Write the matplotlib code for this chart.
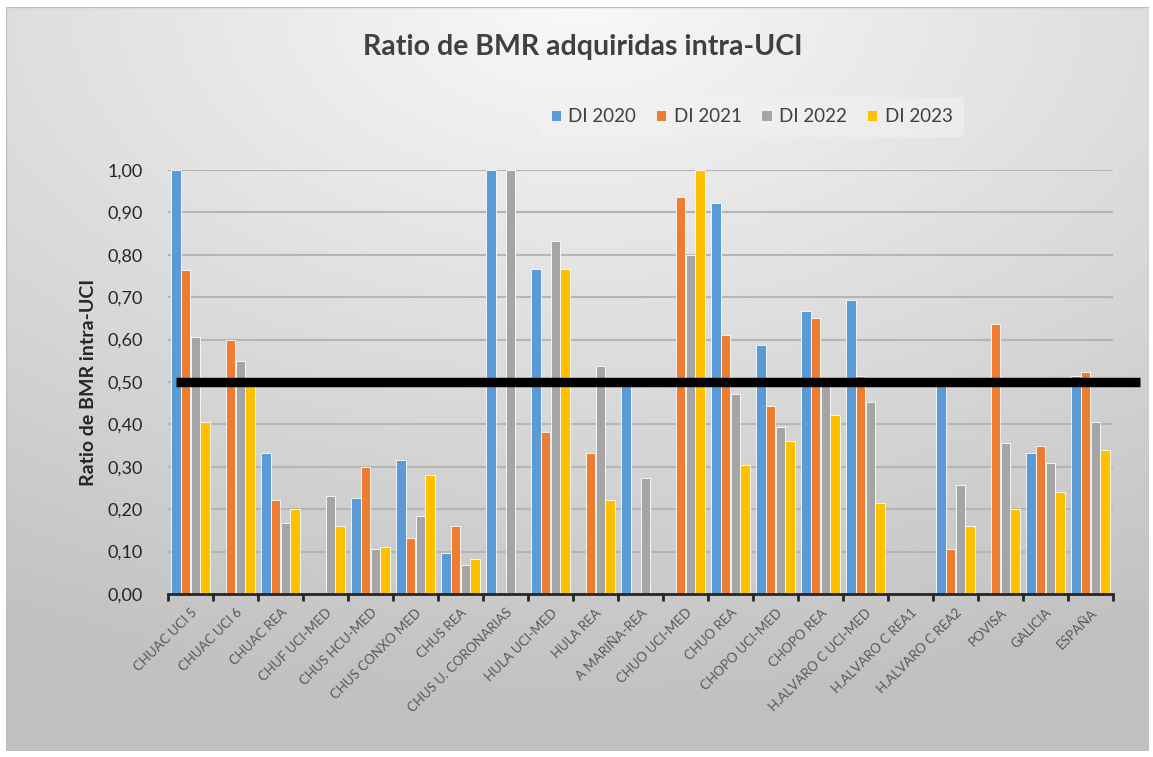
import numpy as np
import matplotlib
matplotlib.use("Agg")
import matplotlib.pyplot as plt
from matplotlib.patches import Patch, Rectangle
from matplotlib.ticker import FuncFormatter, FixedLocator

plt.rcParams['font.family'] = ['Lato', 'DejaVu Sans']

categories = ["CHUAC UCI 5", "CHUAC UCI 6", "CHUAC REA", "CHUF UCI-MED", "CHUS HCU-MED",
              "CHUS CONXO MED", "CHUS REA", "CHUS U. CORONARIAS", "HULA UCI-MED", "HULA REA",
              "A MARIÑA-REA", "CHUO UCI-MED", "CHUO REA", "CHOPO UCI-MED", "CHOPO REA",
              "H.ALVARO C UCI-MED", "H.ALVARO C REA1", "H.ALVARO C REA2", "POVISA", "GALICIA",
              "ESPAÑA"]
di2020 = [1.00, 0.00, 0.333, 0.00, 0.227, 0.316, 0.097, 1.00, 0.767, 0.00, 0.50, 0.00,
          0.923, 0.588, 0.667, 0.694, 0.00, 0.50, 0.00, 0.333, 0.515]
di2021 = [0.765, 0.60, 0.222, 0.00, 0.30, 0.133, 0.161, 0.00, 0.383, 0.333, 0.00, 0.937,
          0.611, 0.444, 0.652, 0.513, 0.00, 0.107, 0.636, 0.348, 0.523]
di2022 = [0.605, 0.55, 0.167, 0.23, 0.105, 0.185, 0.068, 1.00, 0.833, 0.538, 0.273, 0.80,
          0.471, 0.394, 0.50, 0.452, 0.00, 0.258, 0.357, 0.308, 0.406]
di2023 = [0.405, 0.49, 0.20, 0.16, 0.11, 0.28, 0.082, 0.00, 0.767, 0.222, 0.00, 1.00,
          0.305, 0.36, 0.423, 0.214, 0.00, 0.16, 0.20, 0.241, 0.34]
series_names = ["DI 2020", "DI 2021", "DI 2022", "DI 2023"]
series_values = [di2020, di2021, di2022, di2023]
colors = ["#5B9BD5", "#ED7D31", "#A5A5A5", "#FFC000"]
threshold = 0.50

W, H = 1153, 757
fig = plt.figure(figsize=(W / 100, H / 100), dpi=100)
fig.patch.set_facecolor("white")

# background gradient panel
bg = fig.add_axes([6 / W, 6 / H, (1149 - 6) / W, (750 - 6) / H])
bg.set_axis_off()
yy, xx = np.mgrid[0:1:300j, 0:1:400j]
d = np.sqrt(((xx - 0.5) * 1.0) ** 2 + ((yy - 0.0) * 1.1) ** 2)
g = np.clip(0.975 - 0.21 * d, 0.76, 0.975)
bg.imshow(np.dstack([g, g, g]), extent=[0, 1, 0, 1], aspect='auto', origin='upper')
bg.add_patch(Rectangle((0, 0), 1, 1, transform=bg.transAxes, fill=False,
                       edgecolor="#bfbfbf", lw=1.0))
bg.set_xlim(0, 1)
bg.set_ylim(0, 1)

left, right = 168 / W, 1113 / W
bottom, top = 1 - 594 / H, 1 - 170 / H
ax = fig.add_axes([left, bottom, right - left, top - bottom])
ax.patch.set_alpha(0)

n = len(categories)
x = np.arange(n)
bw = 0.215
for i, (name, vals, c) in enumerate(zip(series_names, series_values, colors)):
    ax.bar(x + (i - 1.5) * bw, vals, width=bw * 0.95, color=c, edgecolor="white",
           linewidth=0.6, label=name, zorder=3, clip_on=False)

ax.set_xlim(-0.5, n - 0.5)
ax.set_ylim(0, 1.0)
ax.yaxis.set_major_locator(FixedLocator(np.arange(0, 1.01, 0.1)))
ax.yaxis.set_major_formatter(FuncFormatter(lambda v, p: f"{v:.2f}".replace(".", ",")))
ax.grid(axis='y', color="#b5b5b5", lw=1.5, zorder=0)
ax.set_axisbelow(True)
for s in ["top", "right", "left"]:
    ax.spines[s].set_visible(False)
ax.spines["bottom"].set_color("#262626")
ax.spines["bottom"].set_linewidth(2)
ax.spines["bottom"].set_zorder(5)

ax.set_xticks(x)
ax.set_xticklabels(categories, rotation=45, ha='right', rotation_mode='anchor',
                   fontsize=9.5, color="#595959")
ax.tick_params(axis='x', length=0, pad=9)
ax.set_xticks(np.arange(-0.5, n, 1.0), minor=True)
ax.tick_params(axis='x', which='minor', length=5, width=2, color="#262626", direction='out')
ax.tick_params(axis='y', length=0, labelsize=13, labelcolor="#262626", pad=18)

ax.set_ylabel("Ratio de BMR intra-UCI", fontsize=14, fontweight='bold', color="#262626",
              labelpad=8)

# threshold line (extends beyond the plot area)
x0 = (176 - 168) / (1113 - 168)
x1 = (1140 - 168) / (1113 - 168)
ax.plot([x0, x1], [threshold, threshold], transform=ax.get_yaxis_transform(),
        color="black", lw=6.8, zorder=6, clip_on=False, solid_capstyle='butt')

fig.text(583 / W, 1 - 47 / H, "Ratio de BMR adquiridas intra-UCI", ha='center', va='center',
         fontsize=20.5, fontweight='bold', color="#404040")

handles = [Patch(facecolor=c, edgecolor='none') for c in colors]
leg = fig.legend(handles, series_names, loc='center', bbox_to_anchor=(752 / W, 1 - 117 / H),
                 ncol=4, frameon=True, fontsize=13.5, handlelength=0.5, handleheight=0.5,
                 handletextpad=0.4, columnspacing=1.1, borderpad=0.6, labelcolor="#404040")
leg.get_frame().set_facecolor("#f2f2f2")
leg.get_frame().set_edgecolor("none")
leg.get_frame().set_alpha(0.6)

fig.savefig("out.png", dpi=100)
